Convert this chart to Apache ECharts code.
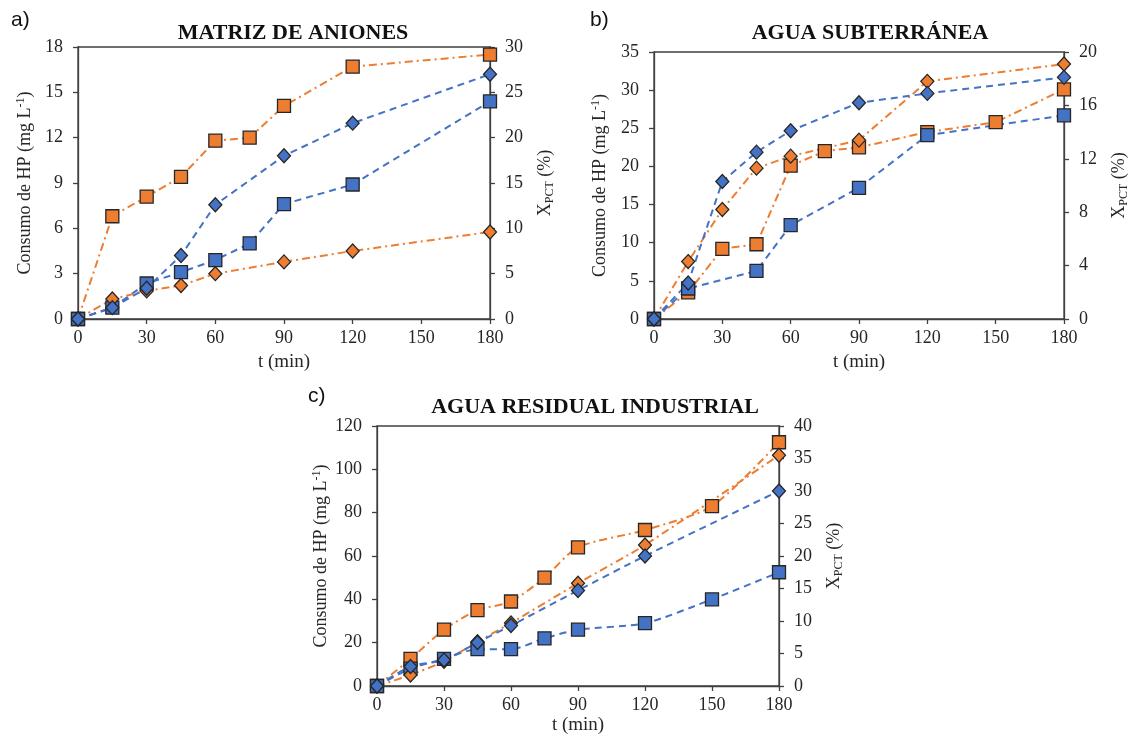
<!DOCTYPE html>
<html><head><meta charset="utf-8">
<script src="https://cdn.jsdelivr.net/npm/echarts@6/dist/echarts.min.js"></script>
<style>html,body{margin:0;padding:0;background:#fff}#c{width:1131px;height:736px}</style>
</head><body><div id="c"></div>
<script>
// ---------- DATA ----------
const xTicks = [0, 30, 60, 90, 120, 150, 180];
// Panel a) MATRIZ DE ANIONES
const aOrangeSqT = [0, 15, 30, 45, 60, 75, 90, 120, 180];
const aOrangeSq  = [0, 6.8, 8.1, 9.4, 11.8, 12.0, 14.1, 16.7, 17.5];
const aBlueSqT   = [0, 15, 30, 45, 60, 75, 90, 120, 180];
const aBlueSq    = [0, 0.75, 2.35, 3.1, 3.9, 5.0, 7.6, 8.9, 14.4];
const aOrangeDiT = [0, 15, 30, 45, 60, 90, 120, 180];
const aOrangeDi  = [0, 2.2, 3.1, 3.7, 5.0, 6.3, 7.5, 9.6];
const aBlueDiT   = [0, 15, 30, 45, 60, 90, 120, 180];
const aBlueDi    = [0, 1.25, 3.4, 7.0, 12.6, 18.0, 21.6, 27.0];
// Panel b) AGUA SUBTERRÁNEA
const bOrangeSqT = [0, 15, 30, 45, 60, 75, 90, 120, 150, 180];
const bOrangeSq  = [0, 3.5, 9.2, 9.8, 20.1, 22.0, 22.5, 24.5, 25.8, 30.1];
const bBlueSqT   = [0, 15, 45, 60, 90, 120, 180];
const bBlueSq    = [0, 4.0, 6.3, 12.3, 17.2, 24.1, 26.7];
const bOrangeDiT = [0, 15, 30, 45, 60, 90, 120, 180];
const bOrangeDi  = [0, 4.3, 8.2, 11.3, 12.2, 13.4, 17.8, 19.1];
const bBlueDiT   = [0, 15, 30, 45, 60, 90, 120, 180];
const bBlueDi    = [0, 2.7, 10.3, 12.5, 14.1, 16.2, 16.9, 18.1];
// Panel c) AGUA RESIDUAL INDUSTRIAL
const cOrangeSqT = [0, 15, 30, 45, 60, 75, 90, 120, 150, 180];
const cOrangeSq  = [0, 12.5, 26, 35, 39, 50, 64, 72, 83, 112.5];
const cBlueSqT   = [0, 15, 30, 45, 60, 75, 90, 120, 150, 180];
const cBlueSq    = [0, 8, 12.5, 17, 17, 22, 26, 29, 40, 52.5];
const cOrangeDiT = [0, 15, 30, 45, 60, 90, 120, 180];
const cOrangeDi  = [0, 1.7, 3.8, 6.8, 9.7, 15.8, 21.7, 35.5];
const cBlueDiT   = [0, 15, 30, 45, 60, 90, 120, 180];
const cBlueDi    = [0, 3, 4, 6.7, 9.3, 14.7, 20, 30];

const titles = ['MATRIZ DE ANIONES', 'AGUA SUBTERRÁNEA', 'AGUA RESIDUAL INDUSTRIAL'];
const panelLabels = ['a)', 'b)', 'c)'];
const leftMax = [18, 35, 120], leftInt = [3, 5, 20];
const rightMax = [30, 20, 40], rightInt = [5, 4, 5];

// ---------- STYLE ----------
const ORANGE = '#ED7D31', BLUE = '#4472C4', AX = '#404040', TXT = '#262626';
const SERIF = '"Liberation Serif", "Times New Roman", serif';
const grids = [
  {left: 78, top: 47, width: 412, height: 272},
  {left: 654, top: 52, width: 410, height: 267},
  {left: 377, top: 426, width: 402, height: 260}
];
const titlePos = [[288, 17], [865, 17], [590, 391]];
const labelPos = [[11, 10], [590, 10], [308, 386]];
const leftGap = [42, 43, 45], rightGap = [45, 45, 45], xGap = [34, 34, 30];

function zip(t, y) { return t.map((v, i) => [v, y[i]]); }

const option = {
  animation: false,
  backgroundColor: '#fff',
  title: titles.map((t, i) => ({
    text: t, left: titlePos[i][0], top: titlePos[i][1], textAlign: 'center',
    textStyle: {fontFamily: SERIF, fontWeight: 'bold', fontSize: 22, color: '#111'}
  })),
  graphic: panelLabels.map((l, i) => ({
    type: 'text', left: labelPos[i][0], top: labelPos[i][1],
    style: {text: l, fontFamily: '"Liberation Sans", Arial, sans-serif', fontSize: 21, fill: '#111'}
  })),
  grid: grids.map(g => Object.assign({show: true, borderColor: AX, borderWidth: 1.3, backgroundColor: 'transparent'}, g)),
  xAxis: grids.map((g, i) => ({
    type: 'value', gridIndex: i, min: 0, max: 180, interval: 30,
    name: 't (min)', nameLocation: 'middle', nameGap: xGap[i],
    nameTextStyle: {fontFamily: SERIF, fontSize: 19, color: TXT},
    axisLine: {lineStyle: {color: AX, width: 1.3}},
    axisTick: {show: true, inside: false, length: 5, lineStyle: {color: AX, width: 1.3}},
    axisLabel: {fontFamily: SERIF, fontSize: 18, color: TXT, margin: 10},
    splitLine: {show: false}
  })),
  yAxis: [].concat(...grids.map((g, i) => [
    {
      type: 'value', gridIndex: i, position: 'left', min: 0, max: leftMax[i], interval: leftInt[i],
      name: '{a|Consumo de HP (mg L}{s|-1}{a|)}', nameLocation: 'middle', nameRotate: 90,
      nameGap: leftGap[i],
      nameTextStyle: {fontFamily: SERIF, fontSize: 18, color: TXT,
        rich: {a: {fontFamily: SERIF, fontSize: 18, color: TXT, lineHeight: 21},
               s: {fontFamily: SERIF, fontSize: 12, color: TXT, lineHeight: 21, verticalAlign: 'top'}}},
      axisLine: {show: true, lineStyle: {color: AX, width: 1.3}},
      axisTick: {show: true, inside: false, length: 5, lineStyle: {color: AX, width: 1.3}},
      axisLabel: {fontFamily: SERIF, fontSize: 18, color: TXT, margin: 15},
      splitLine: {show: false}
    },
    {
      type: 'value', gridIndex: i, position: 'right', min: 0, max: rightMax[i], interval: rightInt[i],
      name: '{a|X}{s|PCT}{a| (%)}', nameLocation: 'middle', nameRotate: 90, nameGap: rightGap[i],
      nameTextStyle: {fontFamily: SERIF, fontSize: 18, color: TXT,
        rich: {a: {fontFamily: SERIF, fontSize: 18, color: TXT, lineHeight: 21},
               s: {fontFamily: SERIF, fontSize: 12, color: TXT, lineHeight: 21, verticalAlign: 'bottom'}}},
      axisLine: {show: true, lineStyle: {color: AX, width: 1.3}},
      axisTick: {show: true, inside: false, length: 5, lineStyle: {color: AX, width: 1.3}},
      axisLabel: {fontFamily: SERIF, fontSize: 18, color: TXT, margin: 15},
      splitLine: {show: false}
    }
  ])),
  series: []
};

const DASHDOT = [8, 4, 2, 4], DASH = [7, 5];
function line(i, data, color, symbol, right, dash, smooth) {
  return {
    type: 'line', xAxisIndex: i, yAxisIndex: i * 2 + (right ? 1 : 0), data: data,
    symbol: symbol, symbolSize: symbol === 'rect' ? 13 : [13, 14], smooth: smooth,
    showAllSymbol: true,
    itemStyle: {color: color, borderColor: '#262626', borderWidth: 1.3},
    lineStyle: {color: color, width: 2, type: dash},
    z: 2
  };
}
const panels = [
  [aOrangeSqT, aOrangeSq, aBlueSqT, aBlueSq, aOrangeDiT, aOrangeDi, aBlueDiT, aBlueDi],
  [bOrangeSqT, bOrangeSq, bBlueSqT, bBlueSq, bOrangeDiT, bOrangeDi, bBlueDiT, bBlueDi],
  [cOrangeSqT, cOrangeSq, cBlueSqT, cBlueSq, cOrangeDiT, cOrangeDi, cBlueDiT, cBlueDi]
];
panels.forEach((p, i) => {
  const sm = i === 2 ? 0.25 : false;
  option.series.push(line(i, zip(p[0], p[1]), ORANGE, 'rect', false, DASHDOT, sm));
  option.series.push(line(i, zip(p[2], p[3]), BLUE, 'rect', false, DASH, sm));
  option.series.push(line(i, zip(p[4], p[5]), ORANGE, 'diamond', true, DASHDOT, sm));
  option.series.push(line(i, zip(p[6], p[7]), BLUE, 'diamond', true, DASH, sm));
});

const chart = echarts.init(document.getElementById('c'), null, {renderer: 'canvas'});
chart.setOption(option);
</script>
</body></html>
